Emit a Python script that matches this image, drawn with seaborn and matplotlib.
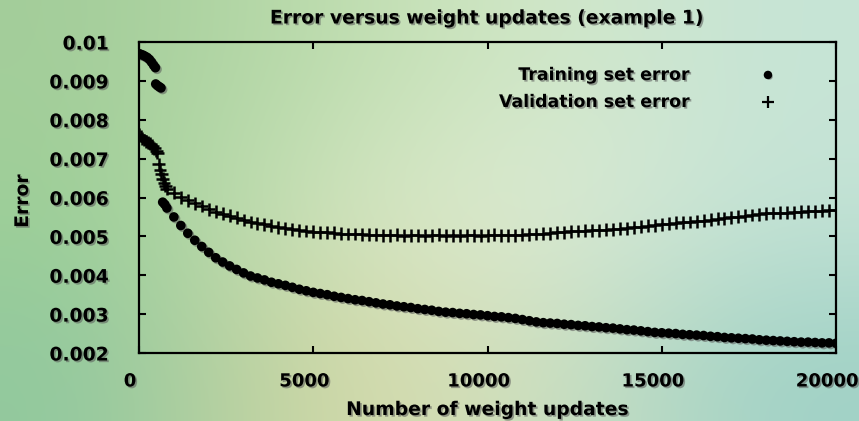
import numpy as np
import pandas as pd
import matplotlib
matplotlib.use("Agg")
import matplotlib.pyplot as plt
import matplotlib.patheffects as pe
import matplotlib.transforms as mtransforms
from matplotlib.colors import to_rgb
from matplotlib.lines import Line2D
import seaborn as sns

# ---- data: error measured during training (example 1) ----
train_updates_early = [0, 60, 120, 180, 240, 300, 360, 420, 470, 480, 530, 580, 630, 680, 740]
train_error_early = [0.00970, 0.00968, 0.00966, 0.00963, 0.00960, 0.00955, 0.00948, 0.00940,
                     0.00934, 0.00892, 0.00888, 0.00885, 0.00882, 0.00588, 0.00582]

valid_updates_early = [0, 50, 100, 150, 200, 260, 320, 380, 440, 500, 530,
                       560, 600, 640, 680, 720, 760]
valid_error_early = [0.00762, 0.00758, 0.00752, 0.00748, 0.00745, 0.00742, 0.00738, 0.00733,
                     0.00727, 0.00720, 0.00715, 0.00685, 0.00672, 0.00660, 0.00648, 0.00638,
                     0.00630]

# regular sampling every 200 updates from 800 to 20000
updates_main = list(range(800, 20001, 200))

train_error_main = [
    0.00573, 0.00550, 0.00528, 0.00508, 0.00490, 0.00474, 0.00459, 0.00445, 0.00434, 0.00424,
    0.00415, 0.00406, 0.00398, 0.00393, 0.00388, 0.00382, 0.00378, 0.00374, 0.00369, 0.00364,
    0.00360, 0.00356, 0.00353, 0.00350, 0.00346, 0.00343, 0.00340, 0.00337, 0.00335, 0.00332,
    0.00329, 0.00326, 0.00324, 0.00321, 0.00319, 0.00317, 0.00314, 0.00312, 0.00310, 0.00307,
    0.00305, 0.00304, 0.00302, 0.00301, 0.00299, 0.00298, 0.00296, 0.00294, 0.00293, 0.00291,
    0.00289, 0.00286, 0.00283, 0.00280, 0.00278, 0.00277, 0.00276, 0.00274, 0.00273, 0.00271,
    0.00270, 0.00268, 0.00267, 0.00265, 0.00264, 0.00262, 0.00260, 0.00259, 0.00257, 0.00255,
    0.00253, 0.00252, 0.00251, 0.00250, 0.00248, 0.00247, 0.00246, 0.00245, 0.00243, 0.00242,
    0.00240, 0.00239, 0.00238, 0.00237, 0.00236, 0.00234, 0.00233, 0.00232, 0.00231, 0.00230,
    0.00229, 0.00228, 0.00228, 0.00227, 0.00226, 0.00226, 0.00225,
]

valid_error_main = [
    0.00622, 0.00612, 0.00601, 0.00593, 0.00585, 0.00578, 0.00570, 0.00563, 0.00558, 0.00553,
    0.00548, 0.00542, 0.00537, 0.00534, 0.00531, 0.00527, 0.00523, 0.00521, 0.00518, 0.00516,
    0.00514, 0.00512, 0.00511, 0.00510, 0.00509, 0.00507, 0.00506, 0.00506, 0.00505, 0.00504,
    0.00504, 0.00503, 0.00503, 0.00504, 0.00502, 0.00503, 0.00503, 0.00502, 0.00503, 0.00504,
    0.00502, 0.00503, 0.00502, 0.00503, 0.00503, 0.00502, 0.00503, 0.00504, 0.00503, 0.00503,
    0.00503, 0.00504, 0.00505, 0.00506, 0.00507, 0.00508, 0.00510, 0.00511, 0.00513, 0.00514,
    0.00515, 0.00516, 0.00516, 0.00517, 0.00518, 0.00520, 0.00521, 0.00523, 0.00525, 0.00527,
    0.00529, 0.00531, 0.00533, 0.00535, 0.00536, 0.00537, 0.00539, 0.00540, 0.00543, 0.00545,
    0.00547, 0.00549, 0.00551, 0.00553, 0.00555, 0.00557, 0.00559, 0.00560, 0.00561, 0.00561,
    0.00562, 0.00563, 0.00564, 0.00565, 0.00566, 0.00567, 0.00568,
]

x_ticks = [0, 5000, 10000, 15000, 20000]
x_tick_labels = ["0", "5000", "10000", "15000", "20000"]
y_ticks = [0.002, 0.003, 0.004, 0.005, 0.006, 0.007, 0.008, 0.009, 0.010]
y_tick_labels = ["0.002", "0.003", "0.004", "0.005", "0.006", "0.007", "0.008", "0.009", "0.01"]

train_df = pd.DataFrame({"updates": train_updates_early + updates_main,
                         "error": train_error_early + train_error_main})
valid_df = pd.DataFrame({"updates": valid_updates_early + updates_main,
                         "error": valid_error_early + valid_error_main})

# ---- figure ----
plt.rcParams["font.family"] = ["DejaVu Sans"]
plt.rcParams["font.weight"] = "bold"
W, H = 859, 421
fig = plt.figure(figsize=(W / 100, H / 100), dpi=100)

# soft green backdrop
bg_colors = [
    ["#a3cd9a", "#bcdcac", "#d4e8c8", "#c6e4d6"],
    ["#9ccf96", "#d2e4be", "#e2edd6", "#c4e3d6"],
    ["#90c89e", "#d6d7a2", "#d2e2c2", "#9fd1c6"],
]
bg_img = np.array([[to_rgb(c) for c in row] for row in bg_colors])
bg = fig.add_axes([0, 0, 1, 1])
bg.imshow(bg_img, interpolation="bicubic", aspect="auto", extent=[0, 1, 0, 1])
bg.set_axis_off()

ax = fig.add_axes([139 / W, 1 - 353 / H, 697 / W, 311 / H])
ax.set_facecolor("none")

shadow = [pe.withSimplePatchShadow(offset=(1.2, -1.2), shadow_rgbFace=(0.35, 0.35, 0.35), alpha=0.55)]

sns.scatterplot(data=train_df, x="updates", y="error", ax=ax, color="black",
                marker="o", s=48, linewidth=0, legend=False)
sns.scatterplot(data=valid_df, x="updates", y="error", ax=ax, color="black",
                marker="+", s=85, linewidth=1.8, legend=False)
for coll in ax.collections:
    coll.set_path_effects(shadow)

ax.set_xlim(0, 20000)
ax.set_ylim(0.002, 0.010)
ax.set_xticks(x_ticks)
ax.set_xticklabels(x_tick_labels)
ax.set_yticks(y_ticks)
ax.set_yticklabels(y_tick_labels)

for sp in ax.spines.values():
    sp.set_linewidth(1.6)
    sp.set_color("black")

ax.tick_params(axis="both", direction="in", length=5, width=1.5, top=True, right=True,
               labelsize=13.5, colors="black")
ax.tick_params(axis="x", pad=14, labelsize=13)
ax.tick_params(axis="y", pad=22)

# x tick labels sit a little left of their ticks
shift_left = mtransforms.ScaledTranslation(-9 / 100, 0, fig.dpi_scale_trans)
for lbl in ax.get_xticklabels():
    lbl.set_transform(lbl.get_transform() + shift_left)
for lbl in ax.get_xticklabels() + ax.get_yticklabels():
    lbl.set_fontweight("bold")
    lbl.set_path_effects(shadow)

ax.set_xlabel("Number of weight updates", fontsize=13.5, fontweight="bold")
ax.xaxis.set_label_coords(0.5, (353 - 400) / 311)
ax.set_ylabel("Error", fontsize=13.5, fontweight="bold")
ax.yaxis.set_label_coords((32 - 139) / 697, (353 - 201) / 311)
ax.xaxis.label.set_path_effects(shadow)
ax.yaxis.label.set_path_effects(shadow)

fig.text(487 / W, 1 - 18 / H, "Error versus weight updates (example 1)",
         ha="center", va="center", fontsize=13.5, fontweight="bold", path_effects=shadow)

# key, right-aligned text with sample markers
key_entries = [("Training set error", "o", 4.5, 0.894), ("Validation set error", "+", 8, 0.807)]
for text, mk, ms, yy in key_entries:
    ax.text(0.7905, yy, text, transform=ax.transAxes, ha="right", va="center",
            fontsize=12.5, fontweight="bold", path_effects=shadow)
    ax.add_line(Line2D([0.9024], [yy], transform=ax.transAxes, marker=mk, markersize=ms,
                       markeredgewidth=1.6, color="black", linestyle="none",
                       path_effects=shadow))

fig.savefig("out.png", dpi=100)
